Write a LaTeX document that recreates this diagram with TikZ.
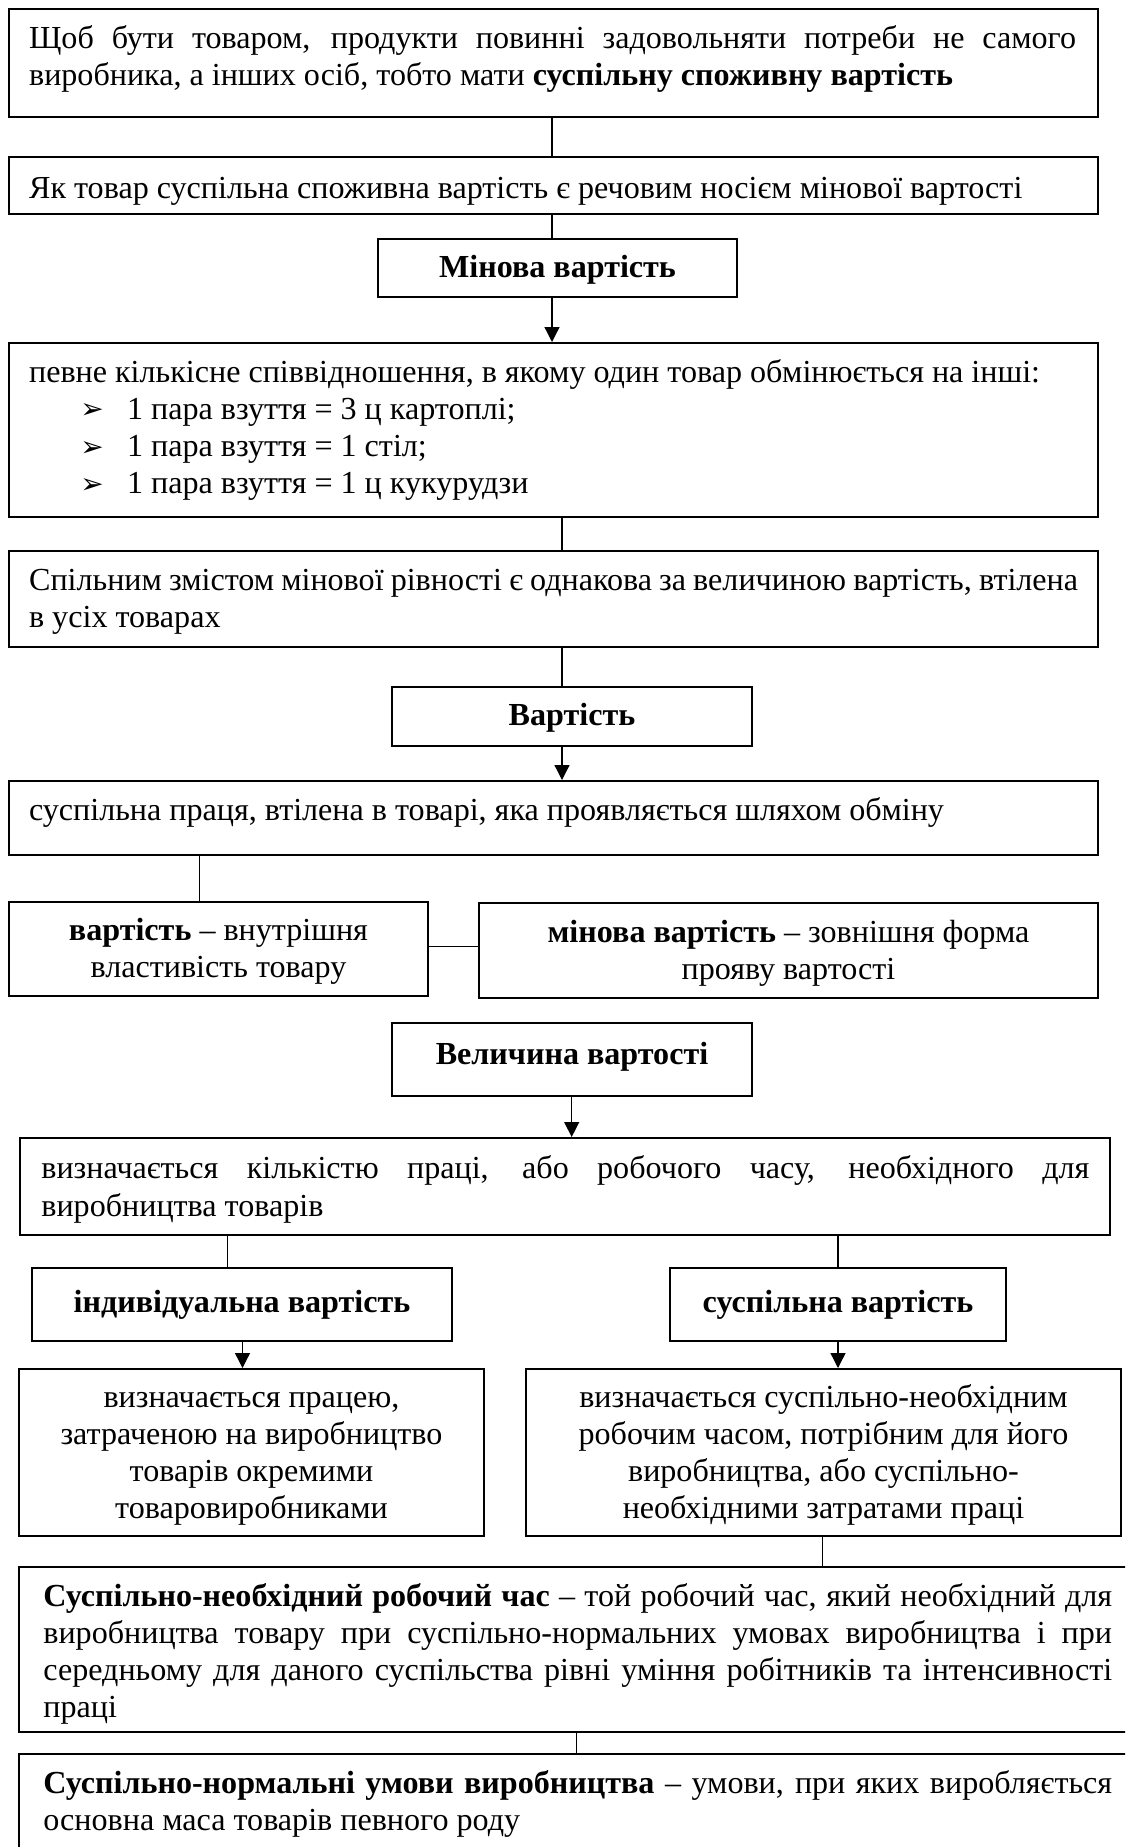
\documentclass[tikz,border=0pt]{standalone}
\usepackage{fontspec}
\setmainfont{Liberation Serif}
\newfontfamily\dejavu{DejaVu Sans}
\usetikzlibrary{fit,arrows.meta}
\newcommand\mainsz{\fontsize{16.05pt}{18.65pt}\selectfont}
\newcommand\bul{\hspace*{25.6pt}\makebox[23.4pt][l]{\raisebox{0.3pt}{\dejavu\fontsize{14pt}{14pt}\selectfont ➢}}}
\begin{document}
\begin{tikzpicture}[x=0.5pt,y=-0.5pt,
  box/.style={draw, line width=1pt, inner sep=0pt},
  txt/.style={inner sep=0pt, font=\mainsz},
  con/.style={line width=0.65pt},
  arr/.style={line width=0.65pt, -{Triangle[length=7.5pt,width=7.5pt]}}]
\useasboundingbox (0,0) rectangle (1125,1847);
\clip (0,0) rectangle (1125,1847);

% boxes
\node[box, fit={(9,9) (1098,117)}] (b1) {};
\node[box, fit={(9,157) (1098,214)}] (b2) {};
\node[box, fit={(378,239) (737,297)}] (b3) {};
\node[box, fit={(9,343) (1098,517)}] (b4) {};
\node[box, fit={(9,551) (1098,647)}] (b5) {};
\node[box, fit={(392,687) (752,746)}] (b6) {};
\node[box, fit={(9,781) (1098,855)}] (b7) {};
\node[box, fit={(9,902) (428,996)}] (b8) {};
\node[box, fit={(479,903) (1098,998)}] (b9) {};
\node[box, fit={(392,1023) (752,1096)}] (b10) {};
\node[box, fit={(20,1138) (1110,1235)}] (b11) {};
\node[box, fit={(32,1268) (452,1341)}] (b12) {};
\node[box, fit={(670,1268) (1006,1341)}] (b13) {};
\node[box, fit={(19,1369) (484,1536)}] (b14) {};
\node[box, fit={(526,1369) (1121,1536)}] (b15) {};
\node[box, fit={(19,1567) (1140,1732)}] (b16) {};
\node[box, fit={(19,1754) (1140,1870)}] (b17) {};

% texts
\node[txt, anchor=base west] (t1) at (28.7,48.5) {\parbox[t]{523.5pt}{Щоб бути товаром, продукти повинні задовольняти потреби не самого\linebreak виробника, а інших осіб, тобто мати \textbf{суспільну споживну вартість}}};
\node[txt, anchor=base west] (t2) at (28.7,198) {Як товар суспільна споживна вартість є речовим носієм мінової вартості};
\node[txt, anchor=base] (t3) at (557.5,277) {\textbf{Мінова вартість}};
\node[txt, anchor=base west] (t4) at (28.7,382) {\parbox[t]{523.5pt}{\raggedright певне кількісне співвідношення, в якому один товар обмінюється на інші:\\
\bul 1 пара взуття = 3 ц картоплі;\\
\bul 1 пара взуття = 1 стіл;\\
\bul 1 пара взуття = 1 ц кукурудзи}};
\node[txt, anchor=base west] (t5) at (28.7,590.3) {\parbox[t]{524.5pt}{Спільним змістом мінової рівності є однакова за величиною вартість, втілена\linebreak в усіх товарах}};
\node[txt, anchor=base] (t6) at (572,725) {\textbf{Вартість}};
\node[txt, anchor=base west] (t7) at (28.7,820.3) {суспільна праця, втілена в товарі, яка проявляється шляхом обміну};
\node[txt, anchor=base] (t8) at (218.5,940.3) {\parbox[t]{200pt}{\centering\textbf{вартість} – внутрішня\\властивість товару}};
\node[txt, anchor=base] (t9) at (788.5,942) {\parbox[t]{300pt}{\centering\textbf{мінова вартість} – зовнішня форма\\прояву вартості}};
\node[txt, anchor=base] (t10) at (572,1064) {\textbf{Величина вартості}};
\node[txt, anchor=base west] (t11) at (41,1178.7) {\parbox[t]{524pt}{визначається кількістю праці, або робочого часу, необхідного для\linebreak виробництва товарів}};
\node[txt, anchor=base] (t12) at (242,1312) {\textbf{індивідуальна вартість}};
\node[txt, anchor=base] (t13) at (838,1312) {\textbf{суспільна вартість}};
\node[txt, anchor=base] (t14) at (251.5,1407) {\parbox[t]{220pt}{\centering визначається працею,\\затраченою на виробництво\\товарів окремими\\товаровиробниками}};
\node[txt, anchor=base] (t15) at (823.5,1407) {\parbox[t]{290pt}{\centering визначається суспільно-необхідним\\робочим часом, потрібним для його\\виробництва, або суспільно-\\необхідними затратами праці}};
\node[txt, anchor=base west] (t16) at (43,1606) {\parbox[t]{534.4pt}{\textbf{Суспільно-необхідний робочий час} – той робочий час, який необхідний для\linebreak виробництва товару при суспільно-нормальних умовах виробництва і при\linebreak середньому для даного суспільства рівні уміння робітників та інтенсивності\linebreak праці}};
\node[txt, anchor=base west] (t17) at (43,1793) {\parbox[t]{534.4pt}{\textbf{Суспільно-нормальні умови виробництва} – умови, при яких виробляється\linebreak основна маса товарів певного роду}};

% connector columns
\coordinate (c1) at (552,0);
\coordinate (c2) at (562,0);
\coordinate (c3) at (199.4,0);
\coordinate (h1) at (0,946.7);
\coordinate (c4) at (571.7,0);
\coordinate (c5) at (227.4,0);
\coordinate (c6) at (838,0);
\coordinate (c7) at (242.5,0);
\coordinate (c8) at (822.8,0);
\coordinate (c9) at (576.8,0);

\draw[con] (b1.south -| c1) -- (b2.north -| c1);
\draw[con] (b2.south -| c1) -- (b3.north -| c1);
\draw[arr] (b3.south -| c1) -- (b4.north -| c1);
\draw[con] (b4.south -| c2) -- (b5.north -| c2);
\draw[con] (b5.south -| c2) -- (b6.north -| c2);
\draw[arr] (b6.south -| c2) -- (b7.north -| c2);
\draw[con] (b7.south -| c3) -- (b8.north -| c3);
\draw[con] (b8.east |- h1) -- (b9.west |- h1);
\draw[arr] (b10.south -| c4) -- (b11.north -| c4);
\draw[con] (b11.south -| c5) -- (b12.north -| c5);
\draw[con] (b11.south -| c6) -- (b13.north -| c6);
\draw[arr] (b12.south -| c7) -- (b14.north -| c7);
\draw[arr] (b13.south -| c6) -- (b15.north -| c6);
\draw[con] (b15.south -| c8) -- (b16.north -| c8);
\draw[con] (b16.south -| c9) -- (b17.north -| c9);
\end{tikzpicture}
\end{document}
